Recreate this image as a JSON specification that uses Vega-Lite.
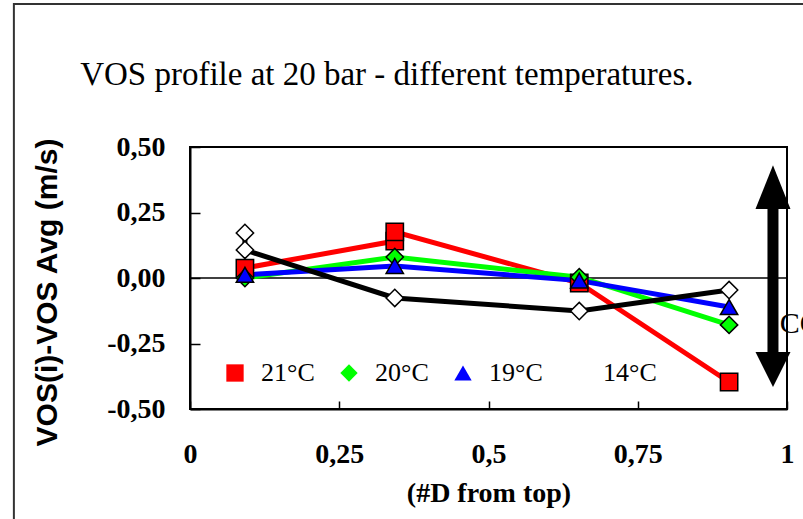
{
  "$schema": "https://vega.github.io/schema/vega-lite/v6.json",
  "width": 597,
  "height": 262,
  "autosize": {"type": "none"},
  "padding": {"left": 190, "top": 147, "right": 16, "bottom": 110},
  "background": "white",
  "config": {
    "view": {"stroke": "black", "strokeWidth": 2},
    "axis": {"grid": false},
    "legend": {"symbolStrokeColor": "black", "symbolStrokeWidth": 1.5}
  },
  "data": {
    "values": [
      {"temp": "21°C", "seq": 1, "pos": 0.092, "dv": 0.038},
      {"temp": "21°C", "seq": 2, "pos": 0.343, "dv": 0.141},
      {"temp": "21°C", "seq": 3, "pos": 0.343, "dv": 0.176},
      {"temp": "21°C", "seq": 4, "pos": 0.652, "dv": -0.019},
      {"temp": "21°C", "seq": 5, "pos": 0.903, "dv": -0.397},
      {"temp": "20°C", "seq": 1, "pos": 0.092, "dv": 0.0},
      {"temp": "20°C", "seq": 2, "pos": 0.343, "dv": 0.08},
      {"temp": "20°C", "seq": 3, "pos": 0.652, "dv": 0.003},
      {"temp": "20°C", "seq": 4, "pos": 0.903, "dv": -0.179},
      {"temp": "19°C", "seq": 1, "pos": 0.092, "dv": 0.012},
      {"temp": "19°C", "seq": 2, "pos": 0.343, "dv": 0.046},
      {"temp": "19°C", "seq": 3, "pos": 0.652, "dv": -0.01},
      {"temp": "19°C", "seq": 4, "pos": 0.903, "dv": -0.111},
      {"temp": "14°C", "seq": 1, "pos": 0.092, "dv": 0.172},
      {"temp": "14°C", "seq": 2, "pos": 0.092, "dv": 0.107},
      {"temp": "14°C", "seq": 3, "pos": 0.343, "dv": -0.076},
      {"temp": "14°C", "seq": 4, "pos": 0.652, "dv": -0.126},
      {"temp": "14°C", "seq": 5, "pos": 0.903, "dv": -0.046}
    ]
  },
  "layer": [
    {
      "data": {"values": [{"k": 1}]},
      "mark": {"type": "rect", "fillOpacity": 0, "stroke": "#333333", "strokeWidth": 2, "clip": false},
      "encoding": {
        "x": {"datum": -0.295, "type": "quantitative", "scale": {"domain": [0, 1], "nice": false, "zero": false}},
        "x2": {"datum": 1.05},
        "y": {"datum": 1.046, "type": "quantitative", "scale": {"domain": [-0.5, 0.5], "nice": false, "zero": false}},
        "y2": {"datum": -1.0}
      }
    },
    {
      "data": {"values": [{"k": 1}]},
      "mark": {"type": "rule", "color": "black", "strokeWidth": 1.5},
      "encoding": {"y": {"datum": 0, "type": "quantitative"}}
    },
    {
      "mark": {"type": "line", "strokeWidth": 5},
      "encoding": {
        "x": {"field": "pos", "type": "quantitative"},
        "y": {"field": "dv", "type": "quantitative"},
        "stroke": {
          "field": "temp", "type": "nominal",
          "scale": {"range": ["#000000", "#0000FF", "#00FF00", "#FF0000"]},
          "legend": null
        },
        "order": {"field": "seq", "type": "quantitative"}
      }
    },
    {
      "mark": {"type": "point", "filled": true, "stroke": "black", "strokeWidth": 1.5, "opacity": 1, "size": 300},
      "encoding": {
        "x": {
          "field": "pos", "type": "quantitative",
          "axis": {
            "title": "(#D from top)",
            "titleFont": "Liberation Serif", "titleFontSize": 28, "titleFontWeight": "bold", "titleColor": "black",
            "titleY": 92, "titleBaseline": "alphabetic",
            "values": [0, 0.25, 0.5, 0.75, 1],
            "labelExpr": "replace('' + datum.value, '.', ',')",
            "labelFont": "Liberation Serif", "labelFontSize": 28, "labelFontWeight": "bold", "labelColor": "black",
            "labelBaseline": "alphabetic", "labelPadding": 61, "labelFlush": false, "labelOverlap": false,
            "tickSize": -8, "tickColor": "black", "tickWidth": 1.5,
            "domainColor": "black", "domainWidth": 2
          }
        },
        "y": {
          "field": "dv", "type": "quantitative",
          "axis": {
            "title": "VOS(i)-VOS Avg (m/s)",
            "titleFont": "Liberation Sans", "titleFontSize": 30, "titleFontWeight": "bold", "titleColor": "black",
            "titleX": -143, "titleY": 145, "titleBaseline": "middle", "titleAlign": "center", "titleAngle": -90,
            "values": [-0.5, -0.25, 0, 0.25, 0.5],
            "labelExpr": "(datum.value < 0 ? '-' : '') + replace(format(abs(datum.value), '.2f'), '.', ',')",
            "labelFont": "Liberation Serif", "labelFontSize": 28, "labelFontWeight": "bold", "labelColor": "black",
            "labelPadding": 35, "labelFlush": false, "labelOverlap": false,
            "tickSize": -10, "tickColor": "black", "tickWidth": 1.5,
            "domainColor": "black", "domainWidth": 2
          }
        },
        "shape": {
          "field": "temp", "type": "nominal",
          "scale": {"domain": ["21°C", "20°C", "19°C", "14°C"], "range": ["square", "diamond", "triangle-up", "diamond"]},
          "legend": {
            "title": null, "orient": "none", "legendX": 24, "legendY": 205,
            "direction": "horizontal", "columns": 4,
            "labelFont": "Liberation Serif", "labelFontSize": 26, "labelColor": "black",
            "labelOffset": 13, "columnPadding": 21, "padding": 8,
            "symbolSize": 300, "symbolStrokeColor": "black", "symbolStrokeWidth": 1.5,
            "fillColor": "white",
            "encode": {"symbols": {"stroke": {"value": "black"}, "strokeWidth": {"value": 1.5}}}
          }
        },
        "fill": {
          "field": "temp", "type": "nominal",
          "scale": {"domain": ["21°C", "20°C", "19°C", "14°C"], "range": ["#FF0000", "#00FF00", "#0000FF", "#FFFFFF"]},
          "legend": {
            "title": null, "orient": "none", "legendX": 24, "legendY": 205,
            "direction": "horizontal", "columns": 4,
            "labelFont": "Liberation Serif", "labelFontSize": 26, "labelColor": "black",
            "labelOffset": 13, "columnPadding": 21, "padding": 8,
            "symbolSize": 300, "symbolStrokeColor": "black", "symbolStrokeWidth": 1.5,
            "fillColor": "white",
            "encode": {"symbols": {"stroke": {"value": "black"}, "strokeWidth": {"value": 1.5}}}
          }
        }
      }
    },
    {
      "data": {"values": [{"k": 1}]},
      "mark": {"type": "rule", "color": "black", "strokeWidth": 11, "clip": false},
      "encoding": {
        "x": {"datum": 0.9765, "type": "quantitative"},
        "y": {"datum": 0.263, "type": "quantitative"},
        "y2": {"datum": -0.282}
      }
    },
    {
      "data": {"values": [{"k": 1}]},
      "mark": {"type": "point", "shape": "M-1,0L0,-2.5L1,0Z", "filled": true, "fill": "black", "strokeWidth": 0, "opacity": 1, "size": 1225, "clip": false},
      "encoding": {
        "x": {"datum": 0.9765, "type": "quantitative"},
        "y": {"datum": 0.263, "type": "quantitative"}
      }
    },
    {
      "data": {"values": [{"k": 1}]},
      "mark": {"type": "point", "shape": "M-1,0L0,2L1,0Z", "filled": true, "fill": "black", "strokeWidth": 0, "opacity": 1, "size": 1225, "clip": false},
      "encoding": {
        "x": {"datum": 0.9765, "type": "quantitative"},
        "y": {"datum": -0.282, "type": "quantitative"}
      }
    },
    {
      "data": {"values": [{"k": 1}]},
      "mark": {"type": "text", "text": "CO", "font": "Liberation Serif", "fontSize": 30, "align": "left", "baseline": "alphabetic", "color": "black", "clip": false},
      "encoding": {
        "x": {"datum": 0.988, "type": "quantitative"},
        "y": {"datum": -0.21, "type": "quantitative"}
      }
    },
    {
      "data": {"values": [{"k": 1}]},
      "mark": {"type": "text", "text": "VOS profile at 20 bar - different temperatures.", "font": "Liberation Serif", "fontSize": 33, "align": "left", "baseline": "alphabetic", "color": "black", "clip": false},
      "encoding": {
        "x": {"datum": -0.184, "type": "quantitative"},
        "y": {"datum": 0.737, "type": "quantitative"}
      }
    }
  ]
}
